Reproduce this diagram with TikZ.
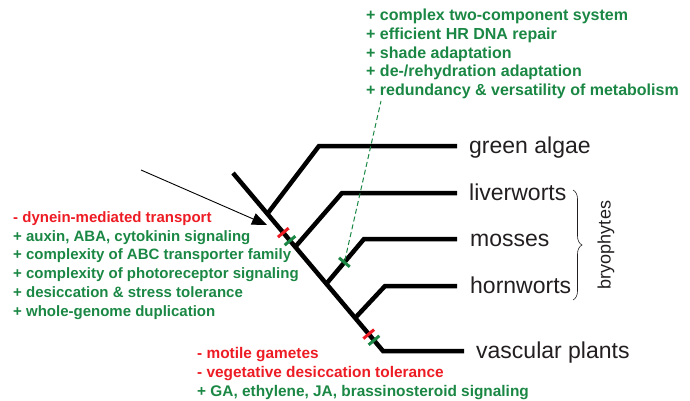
\documentclass[tikz,border=0pt]{standalone}
\usepackage{fontspec}
\setmainfont{Liberation Sans}
\usetikzlibrary{arrows.meta,decorations.pathreplacing,calc}
\definecolor{gain}{RGB}{26,135,68}
\definecolor{loss}{RGB}{237,28,36}
\definecolor{taxonc}{RGB}{35,31,32}

\begin{document}
\begin{tikzpicture}[x=1pt, y=-1pt,
    branch/.style={line width=4.5pt, line join=miter},
    taxon/.style={anchor=west, inner sep=0pt, text=taxonc, text height=18pt, text depth=3pt,
        font=\fontsize{23}{26}\selectfont},
    traits/.style={anchor=north west, align=left, inner sep=0pt, text=gain,
        font=\fontsize{15}{18.7}\selectfont\bfseries},
    tickmark/.style={sloped, inner sep=0pt, minimum width=3pt, minimum height=14pt}]
    \useasboundingbox (0,0) rectangle (690,401);

    % Branch points
    \coordinate (root) at (233,173);
    \coordinate (nalg) at (268,213);
    \coordinate (nliv) at (296,246);
    \coordinate (nmos) at (327,283);
    \coordinate (nhor) at (356,317);
    \coordinate (nvas) at (383,351);
    \coordinate (kalg) at (319,146);
    \coordinate (kliv) at (342,193);
    \coordinate (kmos) at (364,239);
    \coordinate (khor) at (385,286);

    % Taxa
    \node[taxon] (algae) at (469,146) {green algae};
    \node[taxon] (liver) at (469,193) {liverworts};
    \node[taxon] (moss) at (470,239) {mosses};
    \node[taxon] (horn) at (470,286) {hornworts};
    \node[taxon] (vasc) at (476,351) {vascular plants};

    % Tree
    \draw[branch, shorten >=12pt] (root) -- (nvas) -- (vasc.west);
    \draw[branch, shorten >=12pt] (nalg) -- (kalg) -- (algae.west);
    \draw[branch, shorten >=12pt] (nliv) -- (kliv) -- (liver.west);
    \draw[branch, shorten >=13pt] (nmos) -- (kmos) -- (moss.west);
    \draw[branch, shorten >=13pt] (nhor) -- (khor) -- (horn.west);

    % Gains and losses on the branches
    \path (root) -- (nvas)
        node[tickmark, fill=loss, pos=0.335] (lland) {}
        node[tickmark, fill=gain, pos=0.38] (gland) {}
        node[tickmark, fill=loss, pos=0.905] (lvasc) {}
        node[tickmark, fill=gain, pos=0.94] (gvasc) {};
    \path (nmos) -- (kmos) node[tickmark, fill=gain, pos=0.47] (gmoss) {};

    % Bryophytes
    \coordinate (btop) at (573,190);
    \coordinate (bbot) at (573,300);
    \draw[taxonc, line width=0.6pt, decorate, decoration={brace, amplitude=9pt}] (btop) -- (bbot);
    \node[rotate=90, text=taxonc, font=\fontsize{18}{20}\selectfont] (bryo) at (606,245) {bryophytes};

    % Traits
    \node[traits] (tland) at (13,211.5) {{\color{loss}- dynein-mediated transport}\\
        + auxin, ABA, cytokinin signaling\\
        + complexity of ABC transporter family\\
        + complexity of photoreceptor signaling\\
        + desiccation \& stress tolerance\\
        + whole-genome duplication};
    \node[traits, font=\fontsize{16}{18.9}\selectfont\bfseries] (tmoss) at (366,8.5) {+ complex two-component system\\
        + efficient HR DNA repair\\
        + shade adaptation\\
        + de-/rehydration adaptation\\
        + redundancy \& versatility of metabolism};
    \node[traits, font=\fontsize{15.4}{19.2}\selectfont\bfseries] (tvasc) at (197,347) {{\color{loss}- motile gametes}\\
        {\color{loss}- vegetative desiccation tolerance}\\
        + GA, ethylene, JA, brassinosteroid signaling};

    % Pointers
    \coordinate (dtop) at (381,101);
    \draw[gain, line width=1pt, dash pattern=on 5pt off 3pt] (gmoss) -- (dtop);
    \coordinate (atail) at (141,170);
    \coordinate (atip) at (267,225);
    \draw[line width=0.9pt, -{Triangle[length=15pt, width=12pt]}] (atail) -- (atip);
\end{tikzpicture}
\end{document}
